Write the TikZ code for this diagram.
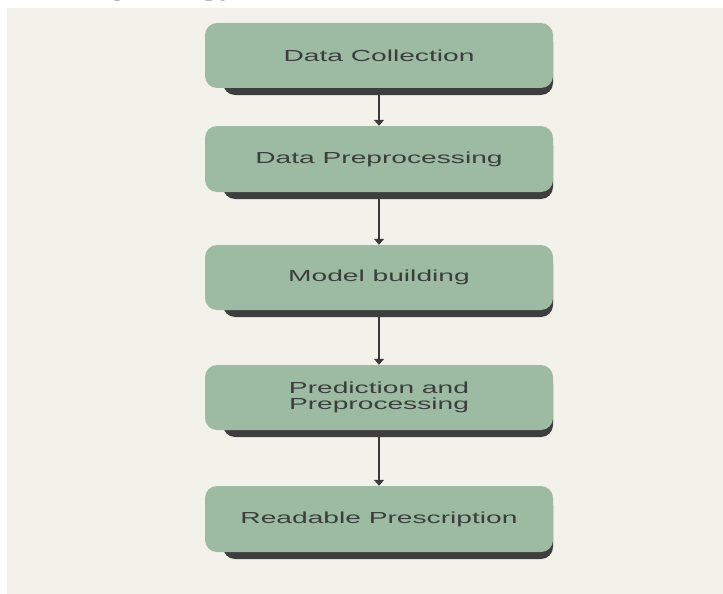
\documentclass[tikz,border=0pt]{standalone}
\usepackage{fontspec}
\usetikzlibrary{arrows.meta}
\newfontfamily\boxfont[FakeStretch=1.76]{Liberation Sans}
\newfontfamily\topfont[FakeStretch=1.5]{Liberation Serif}
\definecolor{panelbg}{HTML}{F2F2EB}
\definecolor{boxfill}{HTML}{9DBBA3}
\definecolor{shadowgray}{HTML}{3E3E3E}
\definecolor{textgray}{HTML}{3A3F3B}
\definecolor{arrowgray}{HTML}{3A3A3A}
\tikzset{
  stepbox/.style={rounded corners=12pt, fill=boxfill, minimum width=348pt,
    inner sep=0pt, align=center, text=textgray,
    font=\boxfont\fontsize{16}{16.5}\selectfont},
  shadowbox/.style={rounded corners=12pt, fill=shadowgray, minimum width=330pt,
    inner sep=0pt},
  flowarrow/.style={draw=arrowgray, line width=2pt,
    -{Triangle[length=6pt,width=10pt]}},
}
\begin{document}
\begin{tikzpicture}[x=1pt,y=-1pt]
\useasboundingbox (0,0) rectangle (723,594);
\fill[white] (0,0) rectangle (723,594);
\fill[panelbg] (7,8) rectangle (723,594);
\begin{scope}
\clip (0,0) rectangle (723,8);
\node[anchor=base west, inner sep=0pt, font=\topfont\fontsize{20}{20}\selectfont] (toptext) at (110,-3) {g the copy};
\end{scope}
\node[shadowbox, minimum height=65pt] (s1) at (388,62.5) {};
\node[shadowbox, minimum height=66pt] (s2) at (388,166) {};
\node[shadowbox, minimum height=65pt] (s3) at (388,284.5) {};
\node[shadowbox, minimum height=65pt] (s4) at (388,404.5) {};
\node[shadowbox, minimum height=66pt] (s5) at (388,526) {};
\node[stepbox, minimum height=65pt] (b1) at (379,55.5) {Data Collection};
\node[stepbox, minimum height=66pt] (b2) at (379,159) {Data Preprocessing};
\node[stepbox, minimum height=65pt] (b3) at (379,277.5) {Model building};
\node[stepbox, minimum height=65pt] (b4) at (379,397.5) {Prediction and\\Preprocessing};
\node[stepbox, minimum height=66pt] (b5) at (379,519) {Readable Prescription};
\draw[flowarrow] (s1.south -| b1.south) -- (b2.north);
\draw[flowarrow] (s2.south -| b2.south) -- (b3.north);
\draw[flowarrow] (s3.south -| b3.south) -- (b4.north);
\draw[flowarrow] (s4.south -| b4.south) -- (b5.north);
\end{tikzpicture}
\end{document}
